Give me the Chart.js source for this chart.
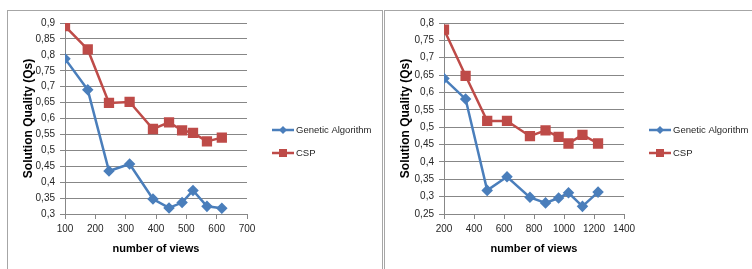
<html>
<head>
  <script src="https://cdn.jsdelivr.net/npm/chart.js@4/dist/chart.umd.min.js"></script>
  <title>Solution quality vs number of views</title>
  <style>
    body { margin:0; background:#fff; width:752px; height:269px; overflow:hidden; position:relative; }
    .frame { position:absolute; top:10px; height:270px; box-sizing:border-box; border-top:1px solid #a6a6a6; border-left:1px solid #a6a6a6; }
    canvas { position:absolute; top:10px; }
  </style>
</head>
<body>
  <div class="frame" style="left:7px; width:376px; border-right:1px solid #a6a6a6;"></div>
  <div class="frame" style="left:384px; width:368px;"></div>
  <canvas id="left-chart" width="376" height="259" style="left:7px"></canvas>
  <canvas id="right-chart" width="368" height="259" style="left:384px"></canvas>

<script>
  // left chart values
  var leftViews = [100, 175, 245, 313, 390, 443, 486, 522, 568, 617];
  var leftGA    = [0.788, 0.690, 0.435, 0.457, 0.347, 0.319, 0.336, 0.374, 0.324, 0.318];
  var leftCSP   = [0.890, 0.817, 0.649, 0.652, 0.567, 0.588, 0.563, 0.555, 0.528, 0.540];
  var leftXTicks = [100, 200, 300, 400, 500, 600, 700];
  var leftYTicks = [0.3, 0.35, 0.4, 0.45, 0.5, 0.55, 0.6, 0.65, 0.7, 0.75, 0.8, 0.85, 0.9];

  // right chart values
  var rightViews = [200, 344, 488, 620, 773, 877, 964, 1030, 1123, 1227];
  var rightGA    = [0.640, 0.581, 0.318, 0.357, 0.298, 0.282, 0.296, 0.311, 0.272, 0.313];
  var rightCSP   = [0.781, 0.648, 0.518, 0.518, 0.474, 0.491, 0.472, 0.453, 0.478, 0.453];
  var rightXTicks = [200, 400, 600, 800, 1000, 1200, 1400];
  var rightYTicks = [0.25, 0.3, 0.35, 0.4, 0.45, 0.5, 0.55, 0.6, 0.65, 0.7, 0.75, 0.8];

  var seriesNames = ['Genetic Algorithm', 'CSP'];
  var blue = '#4a7ebb', red = '#be4b48', gridGray = '#878787';

  // legend like excel: short line with the marker on it
  var lineLegend = {
    id: 'lineLegend',
    afterDraw: function(chart, args, opts) {
      var ctx = chart.ctx;
      ctx.save();
      chart.data.datasets.forEach(function(ds, i) {
        var y = opts.y + i * opts.gap;
        var cx = opts.x + 11;
        ctx.strokeStyle = ds.borderColor;
        ctx.lineWidth = 2.5;
        ctx.beginPath();
        ctx.moveTo(opts.x, y);
        ctx.lineTo(opts.x + 22, y);
        ctx.stroke();
        ctx.fillStyle = ds.borderColor;
        if (ds.pointStyle == 'rect') {
          ctx.fillRect(cx - 4, y - 4, 8, 8);
        } else {
          ctx.beginPath();
          ctx.moveTo(cx, y - 4); ctx.lineTo(cx + 4, y); ctx.lineTo(cx, y + 4); ctx.lineTo(cx - 4, y);
          ctx.closePath();
          ctx.fill();
        }
        ctx.fillStyle = '#262626';
        ctx.font = '9.5px "Liberation Sans"';
        ctx.textBaseline = 'middle';
        ctx.fillText(ds.label, opts.x + 24, y);
      });
      ctx.restore();
    }
  };

  function points(xs, ys) {
    var out = [];
    for (var i = 0; i < xs.length; i++) out.push({x: xs[i], y: ys[i]});
    return out;
  }

  function comma(v) {
    return String(+v.toFixed(2)).replace('.', ',');
  }

  function makeChart(id, views, ga, csp, xTicks, yTicks, yWidth, padRight) {
    new Chart(document.getElementById(id), {
      type: 'line',
      data: {
        datasets: [
          { label: seriesNames[0], data: points(views, ga), borderColor: blue, backgroundColor: blue,
            pointBackgroundColor: blue, pointBorderColor: blue, pointStyle: 'rectRot', pointRadius: 4,
            borderWidth: 2.5, tension: 0 },
          { label: seriesNames[1], data: points(views, csp), borderColor: red, backgroundColor: red,
            pointBackgroundColor: red, pointBorderColor: red, pointStyle: 'rect', pointRadius: 5.5,
            borderWidth: 2.5, tension: 0 }
        ]
      },
      options: {
        responsive: false,
        animation: false,
        devicePixelRatio: 1,
        layout: { padding: { left: 0, right: padRight, top: 13, bottom: 0 } },
        plugins: {
          legend: { display: false },
          tooltip: { enabled: false },
          lineLegend: { x: 265, y: 120, gap: 23 }
        },
        scales: {
          x: {
            type: 'linear',
            min: xTicks[0], max: xTicks[xTicks.length - 1],
            afterBuildTicks: function(axis) { axis.ticks = xTicks.map(function(v) { return {value: v}; }); },
            afterFit: function(axis) { axis.height = 55; },
            grid: { drawOnChartArea: false, drawTicks: true, tickLength: 5, color: gridGray },
            border: { color: gridGray },
            ticks: { color: '#262626', padding: 4, maxRotation: 0, font: { family: 'Liberation Sans', size: 10 },
                     callback: function(v) { return String(v); } },
            title: { display: true, text: 'number of views', color: '#000',
                     font: { family: 'Liberation Sans', size: 11, weight: 'bold' }, padding: { top: 0, bottom: 13 } }
          },
          y: {
            min: yTicks[0], max: yTicks[yTicks.length - 1],
            afterBuildTicks: function(axis) { axis.ticks = yTicks.map(function(v) { return {value: v}; }); },
            afterFit: function(axis) { axis.width = yWidth; },
            grid: { color: gridGray, tickLength: 5 },
            border: { color: gridGray },
            ticks: { color: '#262626', padding: 5, font: { family: 'Liberation Sans', size: 10 }, callback: comma },
            title: { display: true, text: 'Solution Quality (Qs)', color: '#000',
                     font: { family: 'Liberation Sans', size: 12, weight: 'bold' }, padding: { top: 14, bottom: 0 } }
          }
        }
      },
      plugins: [lineLegend]
    });
  }

  makeChart('left-chart', leftViews, leftGA, leftCSP, leftXTicks, leftYTicks, 58, 136);
  makeChart('right-chart', rightViews, rightGA, rightCSP, rightXTicks, rightYTicks, 60, 128);
</script>
</body>
</html>
